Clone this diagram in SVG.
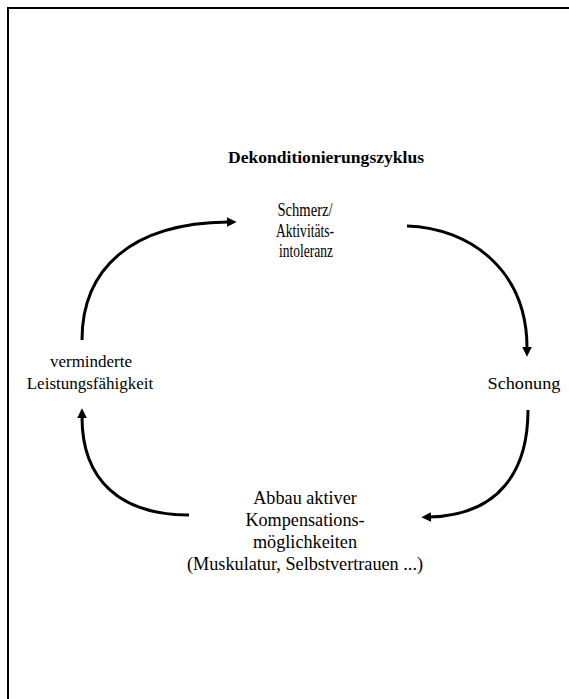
<svg xmlns="http://www.w3.org/2000/svg" width="569" height="699" viewBox="0 0 569 699">
  <style>
    .lbl { font-family: "Liberation Serif", "Times New Roman", serif; font-size: 17px; fill: #000; text-anchor: middle; }
    .big { font-size: 18.2px; }
    .top { font-size: 19px; }
    .title { font-family: "Liberation Serif", "Times New Roman", serif; font-size: 17px; font-weight: bold; fill: #000; text-anchor: middle; }
    .flow { fill: none; stroke: #000; stroke-width: 3; stroke-linecap: butt; }
  </style>
  <defs>
    <marker id="head" viewBox="0 0 10 10" refX="1" refY="5" markerWidth="3.6" markerHeight="3.2" orient="auto" markerUnits="strokeWidth">
      <path d="M0,0 L10,5 L0,10 Z" fill="#000"/>
    </marker>
  </defs>
  <rect x="0" y="0" width="569" height="699" fill="#fff"/>

  <!-- page frame: only top and left edges -->
  <path d="M8,699 V8 H569" fill="none" stroke="#000" stroke-width="2"/>

  <text class="title" x="326" y="163" textLength="196" lengthAdjust="spacingAndGlyphs">Dekonditionierungszyklus</text>

  <g id="node-schmerz">
    <text class="lbl top" x="305" y="216" textLength="55" lengthAdjust="spacingAndGlyphs">Schmerz/</text>
    <text class="lbl top" x="305" y="237" textLength="58" lengthAdjust="spacingAndGlyphs">Aktivitäts-</text>
    <text class="lbl top" x="306" y="257" textLength="54" lengthAdjust="spacingAndGlyphs">intoleranz</text>
  </g>

  <g id="node-schonung">
    <text class="lbl" x="524" y="389" font-size="18.5" textLength="73" lengthAdjust="spacingAndGlyphs">Schonung</text>
  </g>

  <g id="node-abbau">
    <text class="lbl big" x="305" y="504">Abbau aktiver</text>
    <text class="lbl big" x="305" y="526">Kompensations-</text>
    <text class="lbl big" x="305" y="548">möglichkeiten</text>
    <text class="lbl big" x="305" y="570" textLength="236" lengthAdjust="spacingAndGlyphs">(Muskulatur, Selbstvertrauen ...)</text>
  </g>

  <g id="node-leistung">
    <text class="lbl" x="91" y="367">verminderte</text>
    <text class="lbl" x="90" y="389">Leistungsfähigkeit</text>
  </g>

  <g id="connectors">
    <path class="flow" d="M82,340 C82,270 130,223 228,222" marker-end="url(#head)"/>
    <path class="flow" d="M407,226 C470,228 527,270 527,348" marker-end="url(#head)"/>
    <path class="flow" d="M528,410 C528,470 500,515 430,517" marker-end="url(#head)"/>
    <path class="flow" d="M189,515 C120,515 82,480 82,417" marker-end="url(#head)"/>
  </g>
</svg>
